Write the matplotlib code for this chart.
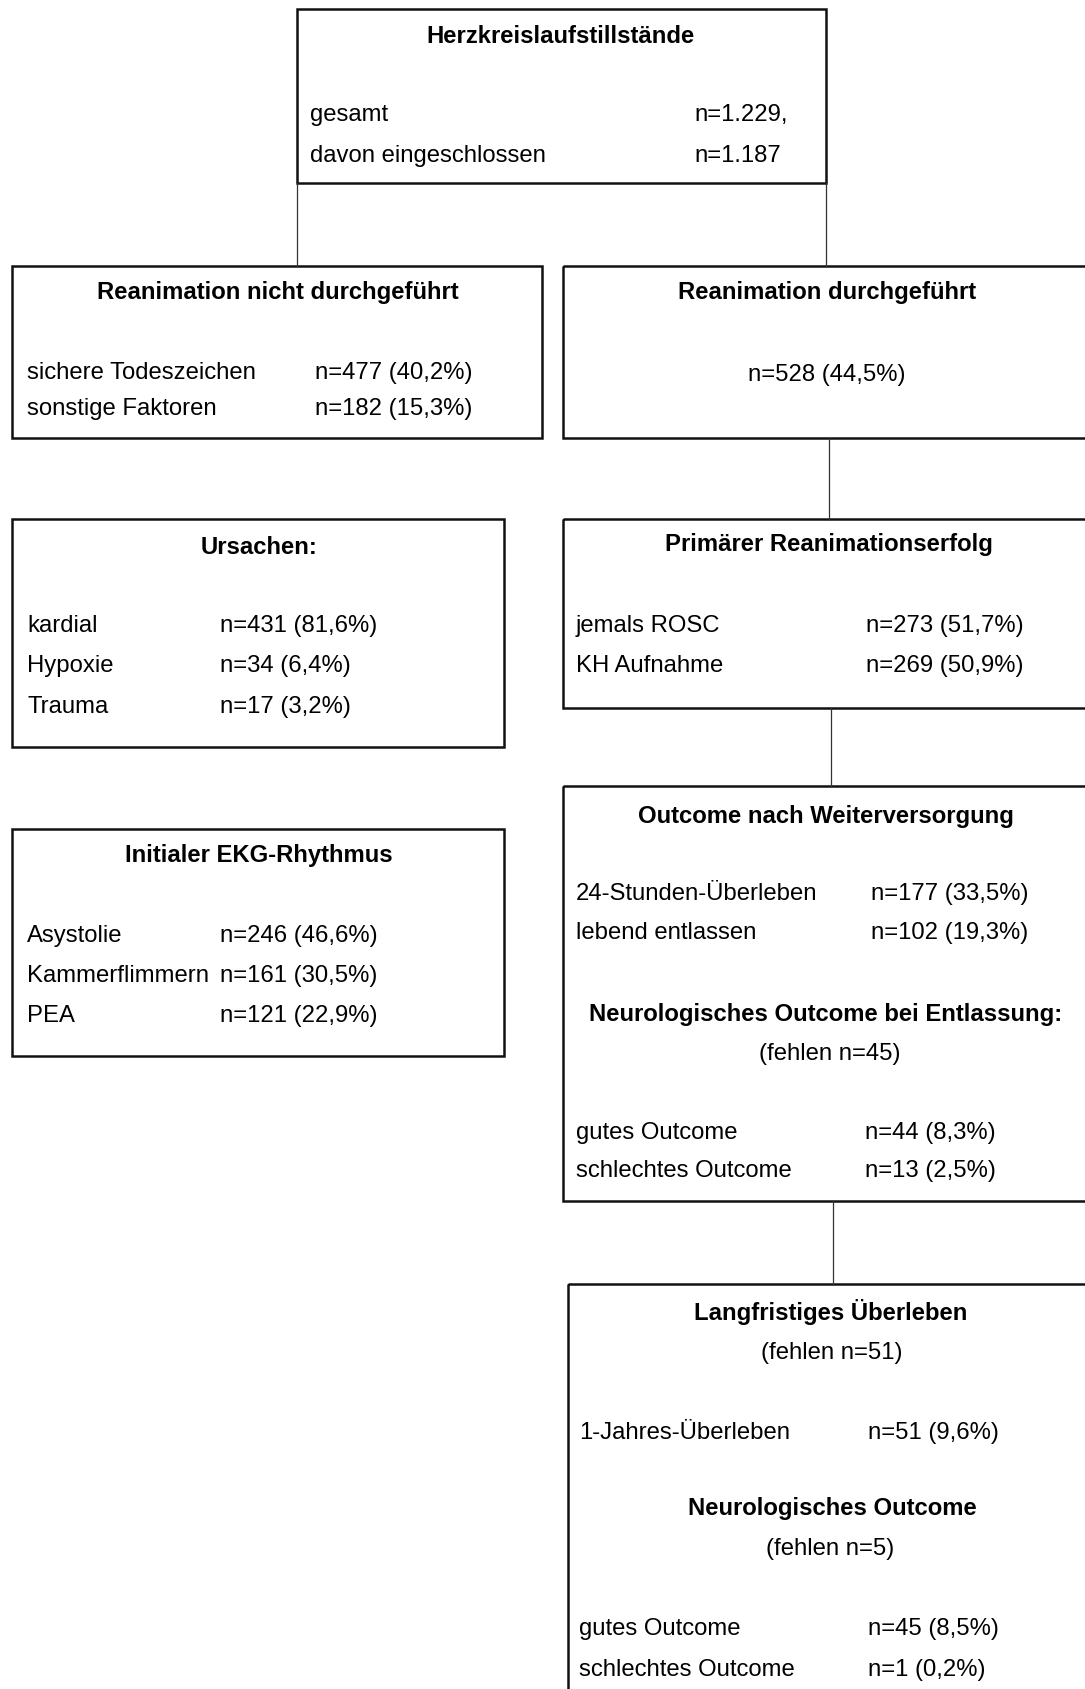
import matplotlib.pyplot as plt
from matplotlib.patches import Rectangle

plt.rcParams['font.family'] = ['Liberation Sans', 'DejaVu Sans']

W, H = 1085, 1689
FS = 17.2

# --- data ---
top_title = "Herzkreislaufstillstände"
top_labels = ["gesamt", "davon eingeschlossen"]
top_values = ["n=1.229,", "n=1.187"]

nicht_title = "Reanimation nicht durchgeführt"
nicht_labels = ["sichere Todeszeichen", "sonstige Faktoren"]
nicht_values = ["n=477 (40,2%)", "n=182 (15,3%)"]

durch_title = "Reanimation durchgeführt"
durch_value = "n=528 (44,5%)"

ursachen_title = "Ursachen:"
ursachen_labels = ["kardial", "Hypoxie", "Trauma"]
ursachen_values = ["n=431 (81,6%)", "n=34 (6,4%)", "n=17 (3,2%)"]

ekg_title = "Initialer EKG-Rhythmus"
ekg_labels = ["Asystolie", "Kammerflimmern", "PEA"]
ekg_values = ["n=246 (46,6%)", "n=161 (30,5%)", "n=121 (22,9%)"]

primaer_title = "Primärer Reanimationserfolg"
primaer_labels = ["jemals ROSC", "KH Aufnahme"]
primaer_values = ["n=273 (51,7%)", "n=269 (50,9%)"]

outcome_title = "Outcome nach Weiterversorgung"
outcome_labels = ["24-Stunden-Überleben", "lebend entlassen"]
outcome_values = ["n=177 (33,5%)", "n=102 (19,3%)"]
neuro1_title = "Neurologisches Outcome bei Entlassung:"
neuro1_missing = "(fehlen n=45)"
neuro1_labels = ["gutes Outcome", "schlechtes Outcome"]
neuro1_values = ["n=44 (8,3%)", "n=13 (2,5%)"]

lang_title = "Langfristiges Überleben"
lang_missing = "(fehlen n=51)"
lang_labels = ["1-Jahres-Überleben"]
lang_values = ["n=51 (9,6%)"]
neuro2_title = "Neurologisches Outcome"
neuro2_missing = "(fehlen n=5)"
neuro2_labels = ["gutes Outcome", "schlechtes Outcome"]
neuro2_values = ["n=45 (8,5%)", "n=1 (0,2%)"]

fig = plt.figure(figsize=(W / 100, H / 100), dpi=100)
ax = fig.add_axes([0, 0, 1, 1])
ax.set_xlim(0, W)
ax.set_ylim(H, 0)
ax.axis('off')


def box(x0, y0, x1, y1):
    ax.add_patch(Rectangle((x0, y0), x1 - x0, y1 - y0, fill=False,
                           edgecolor='#111111', linewidth=1.8, clip_on=False))


def line(x, y0, y1):
    ax.plot([x, x], [y0, y1], color='#333333', linewidth=0.9)


def title(x, y, s):
    ax.text(x, y + 1, s, ha='center', va='center', fontsize=FS, fontweight='bold')


def ctext(x, y, s):
    ax.text(x, y + 2, s, ha='center', va='center', fontsize=FS)


def rows(xl, xv, ys, labels, values):
    for y, lab, val in zip(ys, labels, values):
        ax.text(xl, y + 2, lab, ha='left', va='center', fontsize=FS)
        ax.text(xv, y + 2, val, ha='left', va='center', fontsize=FS)


# connectors
line(297, 183, 266)
line(826, 183, 266)
line(829, 438, 519)
line(831, 708, 786)
line(833, 1201, 1284)

# top box
box(297, 9, 826, 183)
title(561, 35, top_title)
rows(310, 694, [113, 154], top_labels, top_values)

# Reanimation nicht durchgeführt
box(12, 266, 542, 438)
title(278, 291, nicht_title)
rows(27, 315, [371, 407], nicht_labels, nicht_values)

# Reanimation durchgeführt
box(563, 266, 1100, 438)
title(827, 291, durch_title)
ctext(827, 373, durch_value)

# Ursachen
box(12, 519, 504, 747)
title(259, 546, ursachen_title)
rows(27, 220, [624, 664, 705], ursachen_labels, ursachen_values)

# EKG
box(12, 829, 504, 1056)
title(259, 854, ekg_title)
rows(27, 220, [934, 974, 1014], ekg_labels, ekg_values)

# Primärer Reanimationserfolg
box(563, 519, 1100, 708)
title(829, 544, primaer_title)
rows(576, 866, [624, 664], primaer_labels, primaer_values)

# Outcome nach Weiterversorgung
box(563, 786, 1100, 1201)
title(826, 815, outcome_title)
rows(576, 871, [892, 931], outcome_labels, outcome_values)
title(826, 1013, neuro1_title)
ctext(830, 1052, neuro1_missing)
rows(576, 865, [1131, 1169], neuro1_labels, neuro1_values)

# Langfristiges Überleben
box(568, 1284, 1100, 1720)
title(831, 1311, lang_title)
ctext(832, 1351, lang_missing)
rows(579, 868, [1431], lang_labels, lang_values)
title(832, 1507, neuro2_title)
ctext(830, 1547, neuro2_missing)
rows(579, 868, [1627, 1668], neuro2_labels, neuro2_values)

fig.savefig('out.png', dpi=100)
